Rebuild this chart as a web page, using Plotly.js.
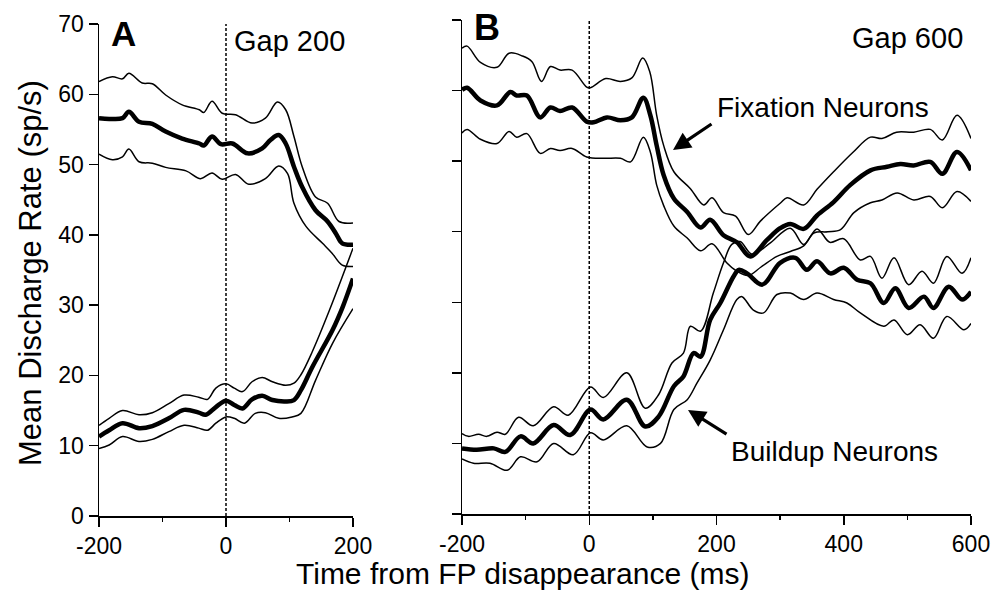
<!DOCTYPE html>
<html>
<head>
<meta charset="utf-8">
<script src="https://cdn.plot.ly/plotly-3.0.1.min.js"></script>
<style>html,body{margin:0;padding:0;background:#fff;}#chart{width:993px;height:591px;}</style>
</head>
<body>
<div id="chart"></div>
<script>
// ---------- Panel A (Gap 200) ----------
const aFixMeanT = [-200,-184,-163,-153,-137,-116,-95,-69,-42,-35,-22,-8,10,34,57,70,83,94,107,120,141,160,173,183,200];
const aFixMean  = [56.6,56.5,56.6,57.5,56.1,55.8,54.7,53.7,53.0,52.7,54.0,52.9,53.0,51.6,52.3,53.5,54.2,53.0,49.7,46.8,43.5,41.9,40.2,38.8,38.6];
const aFixUpT   = [-200,-179,-163,-153,-132,-116,-95,-69,-42,-35,-22,-6,15,41,62,81,94,107,120,141,160,178,200];
const aFixUp    = [61.8,62.5,62.2,63.0,61.6,61.5,59.9,58.5,57.8,57.4,59.0,57.3,57.1,55.9,56.6,58.9,57.8,54.0,49.7,45.4,44.5,41.9,41.7];
const aFixLoT   = [-200,-179,-163,-153,-137,-116,-95,-63,-40,-22,-6,15,36,62,83,97,107,126,152,167,183,200];
const aFixLo    = [51.5,50.7,51.1,52.2,50.4,50.2,49.6,49.1,48.0,48.8,47.9,48.6,47.2,48.0,49.8,48.7,44.5,41.2,38.8,37.4,35.7,35.5];

const aBldMeanT = [-200,-184,-163,-137,-116,-90,-66,-43,-32,-16,0,13,26,41,57,73,94,107,118,136,168,184,200];
const aBldMean  = [11.3,12.2,13.2,12.5,12.8,13.9,15.1,14.7,14.4,15.5,16.4,15.8,15.3,16.6,17.1,16.5,16.3,16.5,17.9,21.2,26.5,29.8,33.8];
const aBldUpT   = [-200,-184,-163,-137,-116,-90,-66,-43,-29,-16,0,13,26,41,57,73,94,107,118,136,163,200];
const aBldUp    = [12.9,13.9,15.0,14.4,14.7,16.0,17.2,16.9,16.6,18.2,18.8,18.2,17.7,19.1,19.7,19.1,18.6,18.9,20.1,23.4,29.3,38.1];
const aBldLoT   = [-200,-184,-163,-137,-116,-90,-66,-43,-29,-16,0,13,29,46,62,83,104,118,141,168,200];
const aBldLo    = [9.6,10.1,11.3,10.6,10.9,12.0,12.9,12.5,12.2,13.2,14.1,13.9,13.2,14.6,14.7,13.9,14.1,14.6,19.3,24.6,29.5];

// ---------- Panel B (Gap 600) ----------
const bFixMeanT = [-200,-192,-171,-145,-124,-114,-98,-77,-61,-46,-27,-4,7,28,49,67,85,96,106,117,133,154,175,190,211,232,253,279,300,316,337,358,384,410,442,468,489,510,536,555,578,600];
const bFixMean  = [60.1,60.4,58.6,57.9,59.8,59.3,59.3,56.2,57.6,57.1,57.6,55.6,55.5,56.2,55.8,56.2,59.0,56.5,52.2,48.0,44.7,42.8,40.6,41.7,39.5,38.5,36.5,38.8,40.5,41.1,40.4,42.3,44.2,46.6,48.7,49.2,49.6,49.4,49.9,48.2,51.3,48.7];
const bFixUpT   = [-200,-192,-171,-145,-126,-105,-90,-75,-61,-46,-27,-4,2,26,49,67,84,95,106,117,133,159,180,193,211,230,250,269,301,311,337,358,384,415,442,460,483,510,536,555,578,600];
const bFixUp    = [66.0,66.3,64.0,63.3,65.3,64.9,64.1,61.3,63.4,62.9,62.9,60.5,60.4,61.7,61.3,61.8,64.6,62.7,56.5,52.2,48.5,46.1,43.8,44.8,42.7,42.2,39.6,41.5,44.1,44.8,43.8,46.0,48.5,51.3,53.4,53.2,54.1,54.1,54.5,53.0,56.5,53.2];
const bFixLoT   = [-200,-192,-171,-145,-126,-114,-98,-77,-61,-46,-27,-4,23,49,65,85,96,106,117,133,154,175,193,216,232,250,270,295,316,337,353,375,395,416,442,460,484,510,536,555,578,600];
const bFixLo    = [54.0,54.5,53.1,52.5,54.2,53.4,53.9,51.1,51.8,51.5,51.8,50.6,50.4,50.4,49.9,53.4,51.3,46.6,43.7,40.8,39.1,37.3,38.3,35.6,34.4,33.8,35.0,36.5,37.2,38.0,39.8,40.0,40.3,42.7,44.1,44.5,45.5,44.5,45.0,43.4,45.7,44.3];

const bBldMeanT = [-200,-177,-150,-132,-108,-88,-56,-30,2,22,59,88,109,133,148,164,175,190,206,227,235,248,272,300,324,342,358,379,400,421,442,463,481,502,526,541,565,586,600];
const bBldMean  = [9.3,9.1,9.3,8.8,11.0,10.0,12.6,11.2,14.8,13.4,16.2,12.4,13.8,18.1,19.5,22.8,22.3,27.5,29.9,33.7,34.6,34.1,32.5,35.6,36.3,34.6,35.8,34.1,34.9,33.2,32.7,29.9,32.0,29.2,30.8,29.2,32.2,30.4,31.5];
const bBldUpT   = [-200,-190,-174,-161,-145,-132,-111,-88,-56,-33,2,22,59,88,109,130,148,159,175,195,211,224,237,256,283,316,337,358,378,400,426,442,460,479,502,523,541,562,586,600];
const bBldUp    = [11.4,11.0,11.3,11.0,11.6,11.3,13.7,12.5,15.2,14.0,18.0,16.5,20.0,15.0,16.9,21.4,22.8,26.6,25.9,31.3,35.6,38.2,38.6,36.8,38.3,40.5,38.2,40.4,38.5,39.0,36.0,36.5,33.4,36.3,32.5,34.4,32.7,36.5,34.1,36.3];
const bBldLoT   = [-200,-182,-156,-129,-108,-82,-56,-25,2,22,59,91,112,133,154,169,190,211,232,240,258,274,295,316,337,358,384,405,426,463,479,500,520,541,562,589,600];
const bBldLo    = [7.8,7.2,7.2,6.2,8.1,7.4,10.0,8.4,11.5,10.5,12.5,9.5,10.0,14.8,16.2,18.5,21.8,26.1,30.4,30.8,28.9,28.5,31.1,31.3,30.4,31.3,30.4,29.9,28.5,26.6,27.5,25.4,26.8,24.9,28.0,26.1,27.0];

// ---------- Ticks ----------
const aXTickVals  = [-200, 0, 200];
const aXTickText  = ['-200', '0', '200'];
const aXMinorVals = [-100, 100];
const bXTickVals  = [-200, 0, 200, 400, 600];
const bXTickText  = ['-200', '0', '200', '400', '600'];
const bXMinorVals = [-100, 100, 300, 500];
const yTickVals   = [0, 10, 20, 30, 40, 50, 60, 70];
const yTickText   = ['0', '10', '20', '30', '40', '50', '60', '70'];

// ---------- Text ----------
const yTitle = 'Mean Discharge Rate (sp/s)';
const xTitle = 'Time from FP disappearance (ms)';
const panelA = 'A', panelB = 'B';
const gapA = 'Gap 200', gapB = 'Gap 600';
const fixLabel = 'Fixation Neurons', bldLabel = 'Buildup Neurons';

const FONT = 'Liberation Sans, Arial, Helvetica, sans-serif';
const THIN = 1.5, THICK = 4.5;

function tr(x, y, w, xa, ya) {
  return {x: x, y: y, type: 'scatter', mode: 'lines', xaxis: xa, yaxis: ya,
          line: {color: '#000', width: w, shape: 'spline', smoothing: 1}, hoverinfo: 'skip'};
}
const data = [
  tr(aFixUpT, aFixUp, THIN, 'x', 'y'),
  tr(aFixLoT, aFixLo, THIN, 'x', 'y'),
  tr(aFixMeanT, aFixMean, THICK, 'x', 'y'),
  tr(aBldUpT, aBldUp, THIN, 'x', 'y'),
  tr(aBldLoT, aBldLo, THIN, 'x', 'y'),
  tr(aBldMeanT, aBldMean, THICK, 'x', 'y'),
  tr(bFixUpT, bFixUp, THIN, 'x2', 'y2'),
  tr(bFixLoT, bFixLo, THIN, 'x2', 'y2'),
  tr(bFixMeanT, bFixMean, THICK, 'x2', 'y2'),
  tr(bBldUpT, bBldUp, THIN, 'x2', 'y2'),
  tr(bBldLoT, bBldLo, THIN, 'x2', 'y2'),
  tr(bBldMeanT, bBldMean, THICK, 'x2', 'y2')
];

const W = 993, H = 591, MT = 20, MB = 75;
const PH = H - MT - MB; // 496
function px(x) { return x / W; }
function py(y) { return (H - MB - y) / PH; }

function xAxis(vals, text, minorVals, extra) {
  return Object.assign({
    tickmode: 'array', tickvals: vals, ticktext: text,
    ticks: 'outside', ticklen: 9, tickwidth: 1.5, tickcolor: '#000',
    showline: true, linecolor: '#000', linewidth: 1.5,
    zeroline: false, showgrid: false,
    tickfont: {family: FONT, size: 23, color: '#000'},
    minor: {tickmode: 'array', tickvals: minorVals, ticks: 'outside', ticklen: 4, tickwidth: 1.5, tickcolor: '#000', showgrid: false},
    fixedrange: true
  }, extra);
}
function yAxis(extra) {
  return Object.assign({
    range: [0, 70], tickmode: 'array', tickvals: yTickVals, ticktext: yTickText,
    ticks: 'outside', ticklen: 9, tickwidth: 1.5, tickcolor: '#000',
    showline: true, linecolor: '#000', linewidth: 1.5,
    zeroline: false, showgrid: false,
    tickfont: {family: FONT, size: 23, color: '#000'},
    fixedrange: true
  }, extra);
}

function txt(t, x, y, size, extra) {
  return Object.assign({text: t, xref: 'paper', yref: 'paper', x: px(x), y: py(y),
    xanchor: 'center', yanchor: 'middle', showarrow: false,
    font: {family: FONT, size: size, color: '#000'}}, extra || {});
}
function arrow(hx, hy, ax, ay) {
  return {text: '', xref: 'paper', yref: 'paper', x: px(hx), y: py(hy), ax: ax, ay: ay,
    showarrow: true, arrowhead: 2, arrowsize: 1.1, arrowwidth: 3.2, arrowcolor: '#000', standoff: 0};
}

const layout = {
  width: W, height: H,
  margin: {l: 0, r: 0, t: MT, b: MB, pad: 0},
  paper_bgcolor: '#fff', plot_bgcolor: '#fff',
  showlegend: false,
  font: {family: FONT, color: '#000'},
  xaxis: xAxis(aXTickVals, aXTickText, aXMinorVals, {domain: [px(99), px(353)], range: [-200, 200], anchor: 'y'}),
  yaxis: yAxis({domain: [0, 492 / PH], anchor: 'x'}),
  xaxis2: xAxis(bXTickVals, bXTickText, bXMinorVals, {domain: [px(462), px(971)], range: [-200, 600], anchor: 'y2'}),
  yaxis2: yAxis({domain: [2 / PH, 1], anchor: 'x2', showticklabels: false}),
  shapes: [
    {type: 'line', xref: 'x', yref: 'y', x0: 0, x1: 0, y0: 0, y1: 70, line: {color: '#000', width: 1.5, dash: '3px,2px'}},
    {type: 'line', xref: 'x2', yref: 'y2', x0: 0, x1: 0, y0: 0, y1: 70, line: {color: '#000', width: 1.5, dash: '3px,2px'}}
  ],
  annotations: [
    txt('<b>' + panelA + '</b>', 123, 33, 35),
    txt('<b>' + panelB + '</b>', 487, 28, 36),
    txt(gapA, 289, 41, 29),
    txt(gapB, 907, 38, 29),
    txt(fixLabel, 823, 107, 28),
    txt(bldLabel, 834, 451, 28),
    arrow(673, 150, 40, -27),
    arrow(688, 410, 40, 25),
    txt(yTitle, 30, 273, 31, {textangle: -90}),
    txt(xTitle, 522, 573, 30)
  ]
};

Plotly.newPlot('chart', data, layout, {staticPlot: true, displayModeBar: false});
</script>
</body>
</html>
